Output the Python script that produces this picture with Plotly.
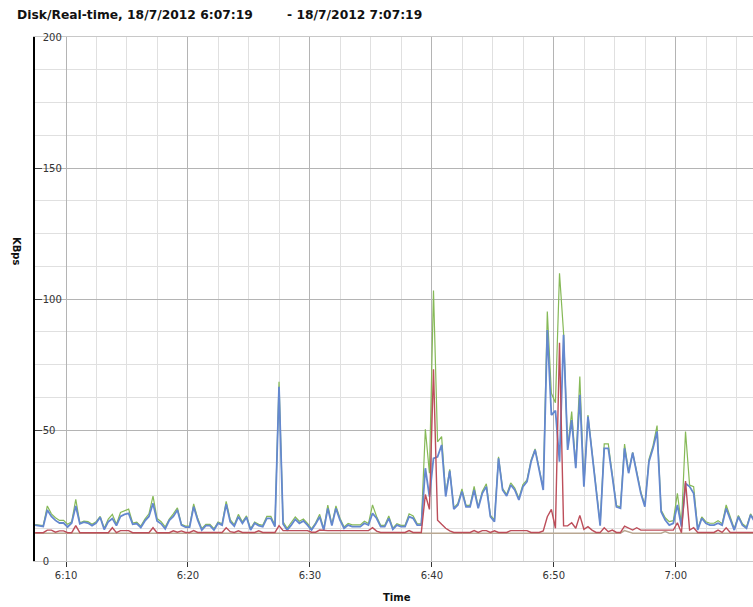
import pandas as pd
import plotly.graph_objects as go

start_time = "2012-07-18 06:07:28"
step = "20s"

blue = [13.7, 13.3, 13.2, 19.5, 17.0, 15.5, 14.5, 14.5, 13.0, 14.5, 21.0, 14.2, 14.8, 14.5, 13.5, 14.5, 16.7, 12.0, 15.0, 16.2,
        13.5, 17.0, 17.8, 18.2, 14.0, 14.3, 12.8, 15.3, 17.0, 22.0, 15.3, 14.2, 12.3, 15.5, 17.0, 19.5,
        13.7, 12.9, 12.9, 20.7, 15.6, 11.8, 13.5, 13.5, 11.8, 14.4, 13.7, 21.7, 15.0, 13.3, 16.9, 14.4, 16.7, 11.8, 14.4,
        13.5, 13.1, 16.3, 16.3, 13.1, 66.5, 14.1, 11.8, 13.7, 15.9, 14.4, 15.3, 13.7, 11.8, 14.1, 16.9, 11.8, 20.1,
        13.5, 20.1, 15.6, 12.5, 13.7, 13.1, 13.1, 13.1, 14.4, 13.7, 18.2, 16.3, 13.1, 13.1, 16.3, 12.1, 13.7, 13.1, 13.1,
        16.9, 16.3, 13.7, 13.7,
        35.4, 24.6, 39.2, 39.8, 44.3, 24.6, 34.4,
        19.8, 21.4, 26.5, 20.7, 20.7, 27.1, 20.1, 25.8, 28.4, 16.9, 15.0, 39.2, 27.1, 24.8, 29.0, 27.1, 23.3, 28.4, 30.3,
        37.9, 42.4, 34.7, 27.1,
        88.2, 55.7, 57.4, 37.9, 86.3, 42.4, 53.8, 35.4, 63.4, 28.4, 55.1, 41.1, 25.8, 13.5,
        43.0, 43.0, 32.2, 20.7, 20.1, 43.0, 33.5, 41.3, 33.5, 25.8, 20.7, 37.9, 43.0, 49.4, 18.8, 15.6, 13.7, 14.4, 21.4,
        13.1, 29.6, 28.4, 25.8, 11.8, 16.3, 14.4, 13.7, 13.7, 14.4, 13.7, 20.1, 16.3, 11.8, 16.9, 13.7, 12.5, 17.6, 15.0]

green = [13.9, 13.8, 13.5, 21.0, 18.0, 16.5, 15.5, 15.5, 14.0, 15.0, 23.5, 14.6, 15.2, 15.0, 14.0, 15.0, 17.0, 12.5, 16.0, 17.8,
         14.0, 18.5, 19.2, 19.8, 14.5, 14.8, 13.3, 16.0, 18.0, 24.8, 16.2, 15.0, 13.0, 16.0, 18.0, 20.3,
         14.0, 13.3, 13.3, 21.8, 16.3, 12.3, 14.0, 14.0, 12.3, 14.9, 14.2, 22.8, 15.8, 13.8, 17.8, 14.9, 17.2, 12.3, 14.9,
         14.0, 13.6, 17.0, 17.0, 13.6, 68.4, 15.0, 12.5, 14.5, 16.8, 15.2, 16.0, 14.4, 12.3, 14.6, 17.8, 12.3, 21.3,
         14.0, 21.0, 16.3, 13.0, 14.3, 13.8, 13.8, 13.8, 15.2, 14.3, 21.4, 17.0, 13.6, 13.6, 17.2, 12.5, 14.2, 13.6, 13.6,
         18.0, 17.2, 14.2, 14.2,
         50.3, 33.5, 103.2, 45.5, 47.5, 25.5, 35.0,
         20.3, 22.0, 27.5, 21.2, 21.2, 28.5, 20.6, 26.5, 29.5, 17.4, 15.8, 39.8, 27.6, 25.4, 29.8, 27.8, 24.0, 29.2, 31.0,
         38.5, 42.8, 35.2, 27.6,
         95.2, 64.0, 60.4, 109.8, 87.0, 43.0, 57.0, 36.0, 70.4, 29.0, 55.7, 41.5, 26.5, 14.0,
         44.7, 44.7, 32.8, 21.2, 20.6, 44.6, 34.0, 41.5, 34.0, 26.5, 21.4, 38.8, 44.0, 51.7, 19.5, 16.5, 15.0, 15.4, 25.8,
         13.8, 49.4, 29.0, 28.4, 12.3, 16.8, 15.0, 14.4, 14.4, 15.4, 14.2, 21.4, 16.8, 12.3, 17.4, 14.2, 13.0, 18.0, 15.5]

red = [10.8, 10.8, 10.8, 11.8, 11.8, 11.0, 11.5, 11.5, 10.8, 10.8, 13.5, 10.8, 10.8, 10.8, 10.8, 10.8, 10.8, 10.8, 10.8, 12.7,
       10.8, 11.6, 11.6, 11.6, 10.8, 10.8, 10.8, 10.8, 10.8, 12.7, 10.8, 10.8, 10.8, 10.8, 11.5, 11.0,
       11.5, 10.9, 10.9, 11.6, 10.9, 10.9, 10.9, 10.9, 10.9, 10.9, 10.9, 12.7, 11.2, 10.9, 11.5, 10.9, 10.9, 10.9, 10.9,
       11.5, 10.9, 10.9, 10.9, 10.9, 13.5, 11.6, 11.6, 11.6, 11.6, 11.6, 11.6, 11.6, 11.0, 11.0, 11.8, 11.6, 11.6,
       11.6, 11.6, 11.6, 11.6, 11.6, 11.6, 11.6, 11.6, 11.6, 11.6, 12.7, 11.4, 10.9, 10.9, 10.9, 10.9, 10.9, 10.9, 10.9,
       11.6, 10.9, 10.9, 10.9,
       25.4, 19.7, 73.2, 15.6, 14.0, 12.5, 11.5,
       10.9, 10.9, 10.9, 10.9, 10.9, 11.6, 10.9, 11.6, 11.6, 10.9, 11.5, 10.9, 10.9, 10.9, 11.6, 11.6, 11.6, 11.6, 11.6,
       10.9, 10.9, 10.9, 11.5,
       16.9, 19.7, 12.5, 83.3, 13.4, 13.4, 14.6, 12.5, 17.4, 12.1, 13.1, 11.8, 10.9, 10.9,
       12.7, 11.2, 11.8, 10.9, 10.9, 13.3, 12.7, 11.8, 12.7, 11.8, 11.8, 11.8, 11.8, 11.8, 11.8, 11.8, 11.8, 11.8, 14.6,
       10.8, 30.5, 11.8, 12.7, 10.9, 10.9, 10.9, 10.9, 10.9, 11.8, 10.9, 12.7, 10.9, 10.9, 10.9, 10.9, 10.9, 10.9, 10.9]

tan = [10.6, 10.6, 10.6, 10.6, 10.6, 10.6, 10.6, 10.6, 10.6, 10.6, 10.6, 10.6, 10.6, 10.6, 10.6, 10.6, 10.6, 10.6, 10.6, 10.6,
       10.6, 10.6, 10.6, 10.6, 10.6, 10.6, 10.6, 10.6, 10.6, 10.6, 10.6, 10.6, 10.6, 10.6, 10.6, 10.6, 10.6, 10.6, 10.6, 10.6,
       10.6, 10.6, 10.6, 10.6, 10.6, 10.6, 10.6, 10.6, 10.6, 10.6, 10.6, 10.6, 10.6, 10.6, 10.6, 10.6, 10.6, 10.6, 10.6, 10.6,
       10.6, 10.6, 10.6, 10.6, 10.6, 10.6, 10.6, 10.6, 10.6, 10.6, 10.6, 10.6, 10.6, 10.6, 10.6, 10.6, 10.6, 10.6, 10.6, 10.6,
       10.6, 10.6, 10.6, 10.6, 10.6, 10.6, 10.6, 10.6, 10.6, 10.6, 10.6, 10.6, 10.6, 10.6, 10.6, 10.6, 10.6, 10.6, 10.6, 10.6,
       10.6, 10.6, 10.6, 10.6, 10.6, 10.6, 10.6, 10.6, 10.6, 10.6, 10.6, 10.6, 10.6, 10.6, 10.6, 10.6, 10.6, 10.6, 10.6, 10.6,
       10.6, 10.6, 10.6, 10.6, 10.6, 10.6, 10.6, 10.6, 10.6, 10.6, 10.6, 10.6, 10.6, 10.6, 10.6, 10.6, 10.6, 10.6, 10.6, 10.6,
       10.6, 10.6, 10.6, 10.6, 10.6, 11.6, 11.2, 10.6, 10.6, 10.6, 10.6, 10.6, 10.6, 10.6, 10.6, 11.2, 10.6, 10.6, 10.6, 10.6,
       10.6, 10.6, 10.6, 10.6, 10.6, 10.6, 10.6, 10.6, 10.6, 10.6, 10.6, 10.6, 10.6, 10.6, 10.6, 10.6, 10.6, 10.6]

times = pd.date_range(start_time, periods=len(blue), freq=step)

y_ticks = [0, 50, 100, 150, 200]

fig = go.Figure()
fig.add_trace(go.Scatter(x=times, y=tan, mode="lines", line=dict(color="#b9a892", width=1.5), name="Base"))
fig.add_trace(go.Scatter(x=times, y=green, mode="lines", line=dict(color="#86b957", width=1.2), name="Total"))
fig.add_trace(go.Scatter(x=times, y=blue, mode="lines", line=dict(color="#6488cf", width=1.8), name="Read"))
fig.add_trace(go.Scatter(x=times, y=red, mode="lines", line=dict(color="#bd4e5a", width=1.4), name="Write"))

font_family = "DejaVu Sans"

FIG_W, FIG_H = 753, 607
M_L, M_R, M_T, M_B = 35, 0, 37, 46

fig.update_layout(
    width=FIG_W, height=FIG_H, autosize=False,
    margin=dict(l=M_L, r=M_R, t=M_T, b=M_B),
    paper_bgcolor="white", plot_bgcolor="white",
    showlegend=False,
    font=dict(family=font_family, size=10, color="#333333"),
    title=dict(text="<b>Disk/Real-time, 18/7/2012 6:07:19\u00a0\u00a0\u00a0\u00a0\u00a0\u00a0\u00a0 - 18/7/2012 7:07:19</b>",
               x=17 / FIG_W, xanchor="left", xref="container",
               y=1 - 15 / FIG_H, yanchor="middle", yref="container",
               font=dict(family=font_family, size=12.3, color="#111111")),
)

fig.update_xaxes(
    type="date",
    range=["2012-07-18 06:07:27.4", "2012-07-18 07:06:20"],
    tick0="2012-07-18 06:10:00", dtick=600000, tickformat="%-H:%M",
    ticks="outside", ticklen=5, tickcolor="#333333",
    showgrid=True, gridcolor="#b4b4b4", gridwidth=1,
    minor=dict(dtick=150000, showgrid=True, gridcolor="#e0e0e0", gridwidth=1),
    showline=True, linecolor="#c8c8c8", linewidth=1, mirror=True,
    zeroline=False,
    tickfont=dict(size=10, color="#333333"),
)

fig.update_yaxes(
    range=[0, 200], tickvals=y_ticks,
    ticks="inside", ticklen=7, tickcolor="#444444",
    ticklabelposition="inside", ticklabeloverflow="allow",
    showgrid=True, gridcolor="#b4b4b4", gridwidth=1,
    minor=dict(dtick=12.5, showgrid=True, gridcolor="#e0e0e0", gridwidth=1),
    showline=True, linecolor="black", linewidth=1.5,
    zeroline=False,
    tickfont=dict(size=10, color="#333333"),
)

plot_w = FIG_W - M_L - M_R
plot_h = FIG_H - M_T - M_B

def page_to_paper(px, py):
    return (px - M_L) / plot_w, (FIG_H - M_B - py) / plot_h

kx, ky = page_to_paper(16, 251)
fig.add_annotation(text="<b>KBps</b>", textangle=90, x=kx, xref="paper", y=ky, yref="paper",
                   xanchor="center", yanchor="middle",
                   showarrow=False, font=dict(family=font_family, size=10, color="#111111"))
tx, ty = page_to_paper(397, 597)
fig.add_annotation(text="<b>Time</b>", x=tx, xref="paper", y=ty, yref="paper",
                   xanchor="center", yanchor="middle",
                   showarrow=False, font=dict(family=font_family, size=10, color="#111111"))

fig.write_html(
    "out.html",
    config={"displayModeBar": False},
    post_script="document.body.style.margin='0';document.body.style.overflow='hidden';",
)
